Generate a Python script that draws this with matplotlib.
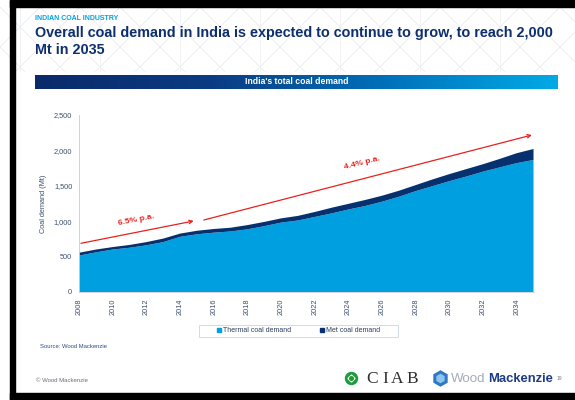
import numpy as np
import matplotlib
matplotlib.use("Agg")
import matplotlib.pyplot as plt
from matplotlib.colors import LinearSegmentedColormap
from matplotlib.patches import Rectangle, Circle, RegularPolygon
from matplotlib.lines import Line2D

plt.rcParams['font.family'] = ['Liberation Sans', 'DejaVu Sans']

# --- data (Mt) ---
years = list(range(2008, 2036))
thermal = [515, 560, 600, 625, 660, 705, 780, 815, 838, 855, 885, 930, 980, 1010,
           1060, 1110, 1165, 1215, 1275, 1345, 1425, 1495, 1565, 1630, 1700, 1760,
           1820, 1865]
met = [40, 40, 35, 40, 45, 50, 45, 50, 52, 53, 60, 60, 60, 65,
       70, 80, 80, 85, 85, 85, 85, 95, 100, 105, 105, 120, 140, 155]
series_labels = ["Thermal coal demand", "Met coal demand"]
series_colors = ["#009fdf", "#07306f"]
xticks = list(range(2008, 2035, 2))
yticks = [0, 500, 1000, 1500, 2000, 2500]
growth_labels = ["6.5% p.a.", "4.4% p.a."]

W, H = 575, 400
fig = plt.figure(figsize=(W / 100, H / 100), dpi=100)
fig.patch.set_facecolor("white")

def fx(px):
    return px / W

def fy(py):
    return 1 - py / H

# faint lattice in header
bg = fig.add_axes([0, fy(72), 1, fy(7) - fy(72)])
bg.set_xlim(0, W)
bg.set_ylim(72, 7)
bg.axis("off")
for x0 in range(-200, 800, 40):
    bg.plot([x0, x0 + 65], [7, 72], color="#e9ecef", lw=0.6)
    bg.plot([x0, x0 - 65], [7, 72], color="#e9ecef", lw=0.6)
for x0 in range(20, 600, 80):
    bg.plot([x0, x0], [7, 72], color="#eef0f2", lw=0.6)

# black frame
fig.patches.append(Rectangle((fx(10), fy(7)), 1, 7 / H, transform=fig.transFigure,
                             color="black", zorder=10))
fig.patches.append(Rectangle((fx(10), 0), 5 / W, 1, transform=fig.transFigure,
                             color="black", zorder=10))
fig.patches.append(Rectangle((fx(10), 0), 1, 7 / H, transform=fig.transFigure,
                             color="black", zorder=10))

# header text
fig.text(fx(35), fy(20), "INDIAN COAL INDUSTRY", fontsize=5.0, fontweight="bold",
         color="#00a3e0", va="baseline")
fig.text(fx(35), fy(37), "Overall coal demand in India is expected to continue to grow, to reach 2,000",
         fontsize=10.4, fontweight="bold", color="#0d2f6e", va="baseline")
fig.text(fx(35), fy(54), "Mt in 2035", fontsize=10.4, fontweight="bold",
         color="#0d2f6e", va="baseline")

# gradient banner
cmap = LinearSegmentedColormap.from_list("banner", ["#0a2a6a", "#0b3b82", "#0070b9", "#00aae6"])
ban = fig.add_axes([fx(35), fy(89), fx(558) - fx(35), fy(75) - fy(89)])
ban.imshow(np.linspace(0, 1, 256)[None, :], aspect="auto", cmap=cmap, extent=[0, 1, 0, 1])
ban.axis("off")
ban.text(0.5, 0.5, "India's total coal demand", color="white", fontsize=6.2,
         fontweight="bold", ha="center", va="center", transform=ban.transAxes)

# main chart
ax = fig.add_axes([fx(79.3), fy(292), fx(533.5) - fx(79.3), fy(115) - fy(292)])
ax.stackplot(years, thermal, met, colors=series_colors, linewidth=0)
ax.set_xlim(2008, 2035)
ax.set_ylim(0, 2500)
ax.set_xticks(xticks)
ax.set_xticklabels([str(y) for y in xticks], rotation=90)
ax.set_yticks(yticks)
ax.set_yticklabels([f"{v:,}" for v in yticks])
ax.tick_params(axis="both", labelsize=5.3, colors="#3d4f6f", length=0, pad=5)
for s in ["top", "right"]:
    ax.spines[s].set_visible(False)
for s in ["left", "bottom"]:
    ax.spines[s].set_color("#c8ccd2")
    ax.spines[s].set_linewidth(0.6)
ax.set_ylabel("Coal demand (Mt)", fontsize=5.3, color="#3d4f6f", labelpad=5)

# growth arrows
arrow_kw = dict(arrowstyle="->", color="#e8211d", lw=0.9, shrinkA=0, shrinkB=0,
                mutation_scale=6)
ax.annotate("", xy=(2014.8, 1003), xytext=(2008.1, 688), arrowprops=arrow_kw,
            annotation_clip=False)
ax.annotate("", xy=(2034.9, 2217), xytext=(2015.4, 1017), arrowprops=arrow_kw,
            annotation_clip=False)
ax.text(2011.4, 1010, growth_labels[0], color="#e8211d", fontsize=6.1, fontweight="bold",
        rotation=11, ha="center", va="center")
ax.text(2024.8, 1815, growth_labels[1], color="#e8211d", fontsize=6.1, fontweight="bold",
        rotation=14, ha="center", va="center")

# legend
fig.patches.append(Rectangle((fx(199), fy(337)), (398 - 199) / W, 12 / H,
                             transform=fig.transFigure, facecolor="white",
                             edgecolor="#c9d6e8", lw=0.6))
handles = [Line2D([], [], marker="s", ls="none", color=c, markersize=2.6) for c in series_colors]
fig.legend(handles, series_labels, loc="center", bbox_to_anchor=(fx(298.5), fy(331)),
           ncol=2, frameon=False, fontsize=5.0, handlelength=0.6, handletextpad=0.3,
           columnspacing=4.2, labelcolor="#2c3e60")

# footer
fig.text(fx(40), fy(346.7), "Source: Wood Mackenzie", fontsize=4.2, color="#2b4a86", va="center")
fig.text(fx(36), fy(381), "\u00a9 Wood Mackenzie", fontsize=4.3, color="#6a6f78", va="center")

# logos
lg = fig.add_axes([0, 0, 1, 1], zorder=5)
lg.set_xlim(0, W)
lg.set_ylim(H, 0)
lg.axis("off")
lg.add_patch(Circle((351.5, 378.5), 6, color="#1f9a3e"))
lg.add_patch(RegularPolygon((351.5, 378.5), 4, radius=3.5, color="white"))
lg.add_patch(Circle((351.5, 378.5), 1.8, color="#1f9a3e"))
for letter, lx in zip("CIAB", [366, 382, 391, 406]):
    lg.text(lx, 379, letter, family="Liberation Serif", fontsize=12.5, color="#2e2e2e",
            va="center", ha="left")
lg.add_patch(RegularPolygon((440.5, 378.5), 6, radius=7.5, color="#2f78c4"))
lg.add_patch(RegularPolygon((440.5, 378.5), 6, radius=4, color="#8cc6ef"))
lg.text(451, 379, "Wood", fontsize=9.6, color="#a3adbd", va="center", ha="left")
lg.text(488, 379, "Mackenzie", fontsize=9.4, fontweight="bold", color="#1d3b85",
        va="center", ha="left")
lg.text(557, 379, "19", fontsize=3.6, color="#7a7f88", va="center", ha="left")

fig.savefig("out.png", dpi=100)
